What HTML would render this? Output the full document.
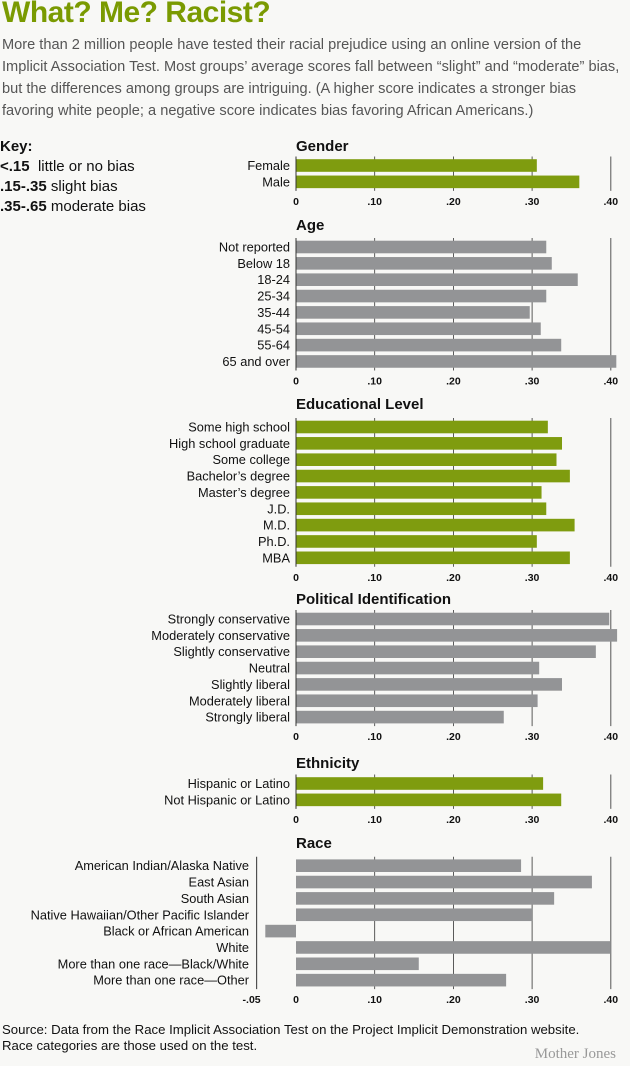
<!DOCTYPE html>
<html><head><meta charset="utf-8">
<style>
html,body{margin:0;padding:0;background:#f8f8f6;}
body{width:630px;height:1066px;overflow:hidden;position:relative;font-family:"Liberation Sans Narrow","Liberation Sans",sans-serif;}
#title{position:absolute;left:2px;top:-4px;font:bold 30px "Liberation Sans Narrow","Liberation Sans",sans-serif;color:#7a9a01;letter-spacing:-0.5px;}
#intro{position:absolute;left:2px;top:34px;width:628px;font-size:14.6px;line-height:22px;color:#555;}
#key{position:absolute;left:0;top:137px;font-size:15px;line-height:20px;color:#111;}
#key b{font-weight:bold;}
svg{position:absolute;left:0;top:0;}
#source{position:absolute;left:2px;top:1022px;font-size:13.2px;line-height:16px;color:#111;}
#mj{position:absolute;right:14px;top:1046px;font:15px "Liberation Serif",serif;color:#999;}
</style></head>
<body>
<div id="title">What? Me? Racist?</div>
<div id="intro">More than 2 million people have tested their racial prejudice using an online version of the Implicit Association Test. Most groups’ average scores fall between “slight” and “moderate” bias, but the differences among groups are intriguing. (A higher score indicates a stronger bias favoring white people; a negative score indicates bias favoring African Americans.)</div>
<div id="key"><b>Key:</b><br><b>&lt;.15</b>&nbsp; little or no bias<br><b>.15-.35</b> slight bias<br><b>.35-.65</b> moderate bias</div>
<svg id="chart" width="630" height="1066"></svg>
<div id="source">Source: Data from the Race Implicit Association Test on the Project Implicit Demonstration website.<br>Race categories are those used on the test.</div>
<div id="mj">Mother Jones</div>
<script>
const genderCats=["Female","Male"];
const genderVals=[0.306,0.360];
const ageCats=["Not reported","Below 18","18-24","25-34","35-44","45-54","55-64","65 and over"];
const ageVals=[0.318,0.325,0.358,0.318,0.297,0.311,0.337,0.407];
const eduCats=["Some high school","High school graduate","Some college","Bachelor’s degree","Master’s degree","J.D.","M.D.","Ph.D.","MBA"];
const eduVals=[0.320,0.338,0.331,0.348,0.312,0.318,0.354,0.306,0.348];
const polCats=["Strongly conservative","Moderately conservative","Slightly conservative","Neutral","Slightly liberal","Moderately liberal","Strongly liberal"];
const polVals=[0.398,0.408,0.381,0.309,0.338,0.307,0.264];
const ethCats=["Hispanic or Latino","Not Hispanic or Latino"];
const ethVals=[0.314,0.337];
const raceCats=["American Indian/Alaska Native","East Asian","South Asian","Native Hawaiian/Other Pacific Islander","Black or African American","White","More than one race—Black/White","More than one race—Other"];
const raceVals=[0.286,0.376,0.328,0.300,-0.039,0.400,0.156,0.267];
const tickVals=[0,0.10,0.20,0.30,0.40];
const tickLabels=["0",".10",".20",".30",".40"];

const svg=document.getElementById('chart');
const NS='http://www.w3.org/2000/svg';
const x=v=>296+v*787;
function mk(tag,attrs,parent){const e=document.createElementNS(NS,tag);for(const k in attrs)e.setAttribute(k,attrs[k]);(parent||svg).appendChild(e);return e;}
const GREEN='#7f9c0f',GRAY='#939496';
function panel(key,title,titleY,firstRow,cats,vals,color,neg){
  const g=mk('g',{});
  
  
  const step=16.35;
  const top=firstRow-9, bot=firstRow+step*(cats.length-1)+9;
  const t=mk('text',{x:296,y:titleY,'font-size':'15','font-weight':'bold',fill:'#111','font-family':'"Liberation Sans Narrow","Liberation Sans",sans-serif'},g);
  t.textContent=title;
  
  
  const minV=neg?-0.05:0;
  tickVals.forEach((tv,i)=>{
    if(i===0) return;
    const ln=mk('line',{x1:x(tv),x2:x(tv),y1:top,y2:bot,stroke:i===4?'#555':'#333','stroke-width':i===4?1:0.8},g);
    
    
  });
  cats.forEach((c,i)=>{
    const cy=firstRow+i*step, v=vals[i];
    const r=mk('rect',{x:Math.min(x(0),x(v)),y:cy-6.3,width:Math.abs(x(v)-x(0)),height:12.6,fill:color},g);
    
    
    const l=mk('text',{x:neg?249:290,y:cy+4.5,'text-anchor':'end','font-size':'12.8',fill:'#111'},g);
    l.textContent=c;
    
    
  });
  const ax=mk('line',{x1:x(minV),x2:x(minV),y1:top,y2:bot,stroke:'#333','stroke-width':1},g);
  
  
  const labs=neg?["-.05"].concat(tickLabels):tickLabels;
  const vs=neg?[-0.05].concat(tickVals):tickVals;
  vs.forEach((tv,i)=>{
    const tl=mk('text',{x:x(tv),y:bot+14,'text-anchor':tv<0?'end':'middle','font-size':'10.5','font-weight':'bold',fill:'#111'},g);
    if(tv<0) tl.setAttribute('x',x(tv)+4);
    tl.textContent=labs[i];
    
    
  });
}
panel('gender','Gender',151,165.5,genderCats,genderVals,GREEN,false);
panel('age','Age',230,247,ageCats,ageVals,GRAY,false);
panel('education','Educational Level',409,427,eduCats,eduVals,GREEN,false);
panel('political','Political Identification',604,619,polCats,polVals,GRAY,false);
panel('ethnicity','Ethnicity',768,783.5,ethCats,ethVals,GREEN,false);
panel('race','Race',848,865.7,raceCats,raceVals,GRAY,true);
</script>
</body></html>
